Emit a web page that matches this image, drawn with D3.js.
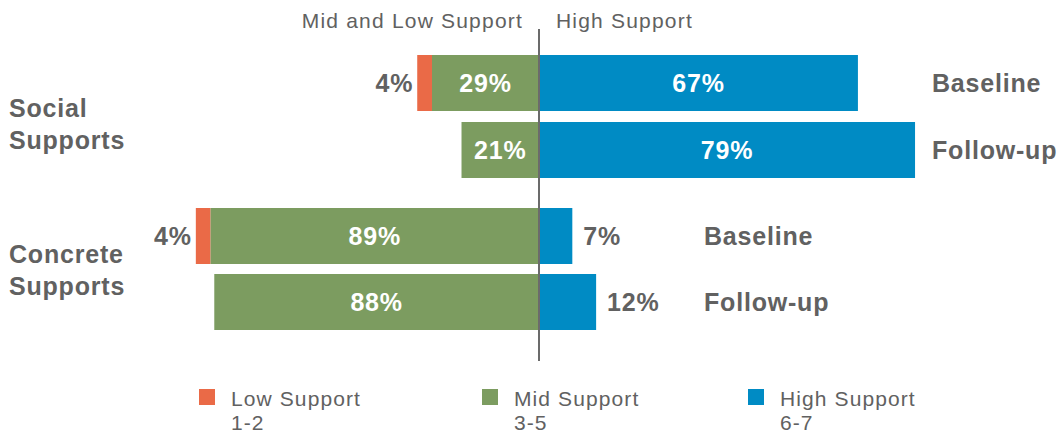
<!DOCTYPE html>
<html>
<head>
<meta charset="utf-8">
<script src="https://cdn.jsdelivr.net/npm/d3@7"></script>
<style>
  html, body { margin: 0; padding: 0; background: #fff; }
  svg { display: block; font-family: "Liberation Sans", Arial, Helvetica, sans-serif; }
</style>
</head>
<body>
<svg id="chart" width="1063" height="434"></svg>
<script>
// ---- data ----
const groups = ["Social Supports", "Concrete Supports"];
const timepoints = ["Baseline", "Follow-up"];
const lowValues  = [4, 0, 4, 0];
const midValues  = [29, 21, 89, 88];
const highValues = [67, 79, 7, 12];
const rowGroup   = [0, 0, 1, 1];
const rowTime    = [0, 1, 0, 1];
const headerLabels = ["Mid and Low Support", "High Support"];
const legendLabels = [["Low Support", "1-2"], ["Mid Support", "3-5"], ["High Support", "6-7"]];

// ---- layout ----
const colors = { low: "#EA6A47", mid: "#7C9C60", high: "#008BC4", text: "#616161", axis: "#6b6b6b" };
const cx = 539;
const svg = d3.select("#chart");

const xLeft  = d3.scaleLinear().domain([0, 100]).range([cx, cx - 369]);
const xRight = d3.scaleLinear().domain([0, 100]).range([cx, cx + 476]);

const rowTops = [55, 122, 208, 274];
const barH = 56;
const y = i => rowTops[i];

const boldStyle = s => s.attr("font-weight", "bold").attr("font-size", 25)
  .attr("letter-spacing", "0.8px").attr("fill", colors.text);

// header
svg.append("text").attr("x", 523).attr("y", 28).attr("text-anchor", "end")
  .attr("font-size", 21).attr("letter-spacing", "1.2px").attr("fill", colors.text).text(headerLabels[0]);
svg.append("text").attr("x", 556).attr("y", 28).attr("text-anchor", "start")
  .attr("font-size", 21).attr("letter-spacing", "1.2px").attr("fill", colors.text).text(headerLabels[1]);

const rows = d3.range(lowValues.length);

// low segments
svg.selectAll("rect.low").data(rows.filter(i => lowValues[i] > 0)).join("rect")
  .attr("class", "low")
  .attr("x", i => xLeft(midValues[i] + lowValues[i]))
  .attr("width", i => xLeft(midValues[i]) - xLeft(midValues[i] + lowValues[i]))
  .attr("y", y).attr("height", barH).attr("fill", colors.low);

// mid segments
svg.selectAll("rect.mid").data(rows).join("rect")
  .attr("class", "mid")
  .attr("x", i => xLeft(midValues[i]))
  .attr("width", i => xLeft(0) - xLeft(midValues[i]))
  .attr("y", y).attr("height", barH).attr("fill", colors.mid);

// high segments
svg.selectAll("rect.high").data(rows).join("rect")
  .attr("class", "high")
  .attr("x", xRight(0))
  .attr("width", i => xRight(highValues[i]) - xRight(0))
  .attr("y", y).attr("height", barH).attr("fill", colors.high);

// center axis line
svg.append("line").attr("x1", cx).attr("x2", cx).attr("y1", 29).attr("y2", 361)
  .attr("stroke", colors.axis).attr("stroke-width", 2);

// low labels (outside left)
svg.selectAll("text.lowlab").data(rows.filter(i => lowValues[i] > 0)).join("text")
  .attr("class", "lowlab")
  .attr("x", i => xLeft(midValues[i] + lowValues[i]) - 4)
  .attr("y", i => y(i) + barH / 2 + 9)
  .attr("text-anchor", "end").call(boldStyle)
  .text(i => lowValues[i] + "%");

// mid labels (inside, centered)
svg.selectAll("text.midlab").data(rows).join("text")
  .attr("class", "midlab")
  .attr("x", i => (xLeft(0) + xLeft(midValues[i])) / 2)
  .attr("y", i => y(i) + barH / 2 + 9)
  .attr("text-anchor", "middle").call(boldStyle).attr("fill", "#fff")
  .text(i => midValues[i] + "%");

// high labels (inside if big, outside if small)
svg.selectAll("text.highlab").data(rows).join("text")
  .attr("class", "highlab")
  .attr("x", i => highValues[i] > 20 ? (xRight(0) + xRight(highValues[i])) / 2 : xRight(highValues[i]) + 11)
  .attr("y", i => y(i) + barH / 2 + 9)
  .attr("text-anchor", i => highValues[i] > 20 ? "middle" : "start")
  .call(boldStyle)
  .attr("fill", i => highValues[i] > 20 ? "#fff" : colors.text)
  .text(i => highValues[i] + "%");

// timepoint labels on right
const timeLabelX = [932, 704];
svg.selectAll("text.timelab").data(rows).join("text")
  .attr("class", "timelab")
  .attr("x", i => timeLabelX[rowGroup[i]])
  .attr("y", i => y(i) + barH / 2 + 9)
  .call(boldStyle)
  .text(i => timepoints[rowTime[i]]);

// group labels on left
const groupLabelY = [117, 263];
groups.forEach((g, gi) => {
  const words = g.split(" ");
  const t = svg.append("text").attr("x", 9).call(boldStyle);
  words.forEach((w, wi) => {
    t.append("tspan").attr("x", 9).attr("y", groupLabelY[gi] + wi * 32).text(w);
  });
});

// legend
const legendX = [199, 482, 748];
const legendColors = [colors.low, colors.mid, colors.high];
legendLabels.forEach((lab, li) => {
  svg.append("rect").attr("x", legendX[li]).attr("y", 389).attr("width", 16).attr("height", 16)
    .attr("fill", legendColors[li]);
  const t = svg.append("text").attr("font-size", 21).attr("letter-spacing", "1.1px").attr("fill", colors.text);
  t.append("tspan").attr("x", legendX[li] + 32).attr("y", 406).text(lab[0]);
  t.append("tspan").attr("x", legendX[li] + 32).attr("y", 430).text(lab[1]);
});
</script>
</body>
</html>
